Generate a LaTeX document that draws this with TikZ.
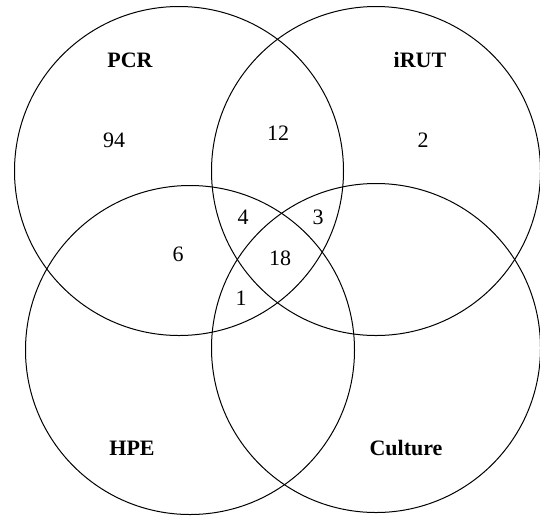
\documentclass[tikz,border=0pt]{standalone}
\usepackage{fontspec}
\setmainfont{Liberation Serif}
\usepackage{tikz}
\usetikzlibrary{positioning}

\begin{document}
\begin{tikzpicture}[x=1pt, y=-1pt,
  setc/.style={draw, circle, minimum size=329pt, inner sep=0pt, line width=1pt},
  lbl/.style={font=\fontsize{22}{25}\selectfont\bfseries, inner sep=0pt},
  num/.style={font=\fontsize{22}{25}\selectfont, inner sep=0pt}
]
\useasboundingbox (0,0) rectangle (540,515);
\node[setc] (pcr) at (179,171) {};
\node[setc] (irut) at (376,171) {};
\node[setc] (hpe) at (190,350) {};
\node[setc] (cult) at (376,348) {};
\node[lbl] (pcrlbl) at (130,60) {PCR};
\node[lbl] (irutlbl) at (420,60) {iRUT};
\node[lbl] (hpelbl) at (132,448) {HPE};
\node[lbl] (cultlbl) at (406,448) {Culture};
\node[num] (n94) at (114,140) {94};
\node[num] (n12) at (278,133) {12};
\node[num] (n2) at (423,140) {2};
\node[num] (n4) at (243,217) {4};
\node[num] (n3) at (318,217) {3};
\node[num] (n6) at (178,254) {6};
\node[num] (n18) at (280,258) {18};
\node[num] (n1) at (241,298) {1};
\end{tikzpicture}
\end{document}
